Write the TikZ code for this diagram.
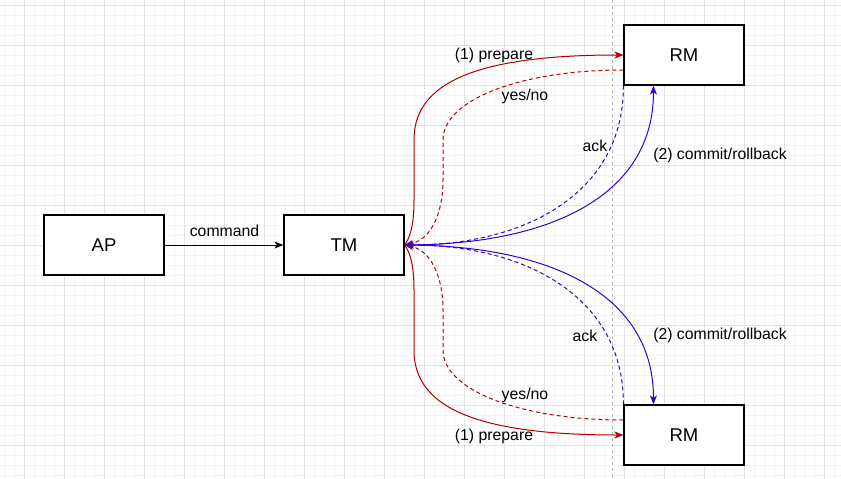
\documentclass[tikz,border=0pt]{standalone}
\usepackage{fontspec}
\setmainfont{Liberation Sans}
\usetikzlibrary{arrows.meta,calc}
\definecolor{dred}{HTML}{B20000}
\definecolor{dblue}{HTML}{3700CC}
\definecolor{gmajor}{HTML}{E2E2E2}
\definecolor{gminor}{HTML}{F4F4F4}
\definecolor{gsep}{HTML}{BDBDBD}
\begin{document}
\begin{tikzpicture}[x=1pt,y=-1pt,
  box/.style={draw=black,line width=1.2pt,fill=white,minimum width=120pt,minimum height=60pt,inner sep=0pt,font=\fontsize{18.5}{22}\selectfont},
  lbl/.style={font=\fontsize{15.8}{19}\selectfont,inner sep=0pt,text=black},
  tip/.style={-{Stealth[length=9pt,width=7pt,inset=2.5pt]}},
  redsolid/.style={draw=dred,line width=1pt,tip},
  reddash/.style={draw=dred,line width=1pt,tip,dash pattern=on 4pt off 3pt},
  bluesolid/.style={draw=dblue,line width=1pt,tip},
  bluedash/.style={draw=dblue,line width=1pt,tip,dash pattern=on 4pt off 3pt},
  minorgrid/.style={draw=gminor,line width=0.8pt},
  majorgrid/.style={draw=gmajor,line width=1pt}]
\useasboundingbox (0,0) rectangle (841,479);
\fill[white] (0,0) rectangle (841,479);
% grid
\foreach \x in {4,14,...,834} \draw[minorgrid] (\x,0) -- (\x,479);
\foreach \y in {5,15,...,475} \draw[minorgrid] (0,\y) -- (841,\y);
\foreach \x in {24,64,...,824} \draw[majorgrid] (\x,0) -- (\x,479);
\foreach \y in {5,45,...,445} \draw[majorgrid] (0,\y) -- (841,\y);
% separator
\draw[gsep,line width=0.8pt,dash pattern=on 3pt off 3pt] (612,0) -- (612,479);
% boxes
\node[box] (AP) at (104,245) {AP};
\node[box] (TM) at (344,245) {TM};
\node[box] (RMt) at (684,55) {RM};
\node[box] (RMb) at (684,435) {RM};
\coordinate (tYN) at ($(RMt.west)+(0,15)$);
\coordinate (tCM) at ($(RMt.south west)+(30,0)$);
\coordinate (bYN) at ($(RMb.west)+(0,-15)$);
\coordinate (bCM) at ($(RMb.north west)+(30,0)$);
% command
\draw[draw=black,line width=1pt,tip] (AP.east) -- (TM.west);
\node[lbl] (lcmd) at (224.5,230.5) {command};
% top red
\draw[redsolid] (TM.east) .. controls (410,238) and (414,225) .. (414,200) -- (414,140) .. controls (414,90) and (460,55) .. (RMt.west);
\draw[reddash] (tYN) .. controls (520,70) and (443,100) .. (443,140) -- (443,180) .. controls (443,215) and (430,240) .. (TM.east);
% bottom red
\draw[redsolid] (TM.east) .. controls (410,252) and (414,265) .. (414,290) -- (414,350) .. controls (414,400) and (460,435) .. (RMb.west);
\draw[reddash] (bYN) .. controls (520,420) and (443,390) .. (443,350) -- (443,310) .. controls (443,275) and (430,250) .. (TM.east);
% blue
\draw[bluedash] (RMt.south west) .. controls (624,190) and (530,245) .. (TM.east);
\draw[bluedash] (RMb.north west) .. controls (624,300) and (530,245) .. (TM.east);
\draw[bluesolid] (TM.east) .. controls (560,245) and (654,190) .. (tCM);
\draw[bluesolid] (TM.east) .. controls (560,245) and (654,300) .. (bCM);
% labels
\node[lbl] (l1t) at (494,55) {(1) prepare};
\node[lbl] (l2t) at (525,96) {yes/no};
\node[lbl] (l3t) at (595,146) {ack};
\node[lbl] (l4t) at (720,155.5) {(2) commit/rollback};
\node[lbl] (l1b) at (494,436) {(1) prepare};
\node[lbl] (l2b) at (525,395.5) {yes/no};
\node[lbl] (l3b) at (585,336) {ack};
\node[lbl] (l4b) at (720,335) {(2) commit/rollback};
\end{tikzpicture}
\end{document}
